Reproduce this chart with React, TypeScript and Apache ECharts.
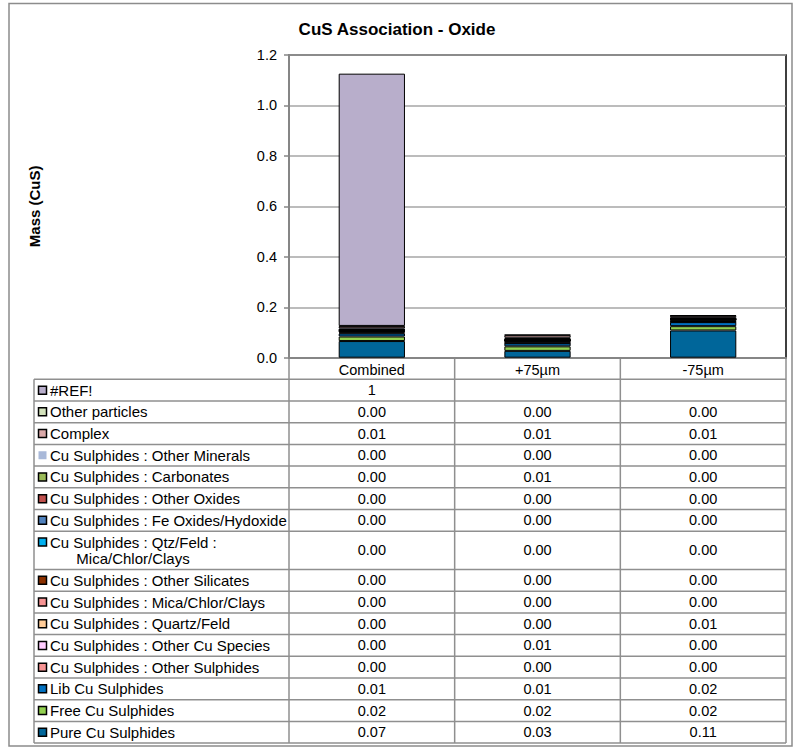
import React, { useEffect, useRef } from "react";
import * as echarts from "echarts";

const categories = ["Combined", "+75\u00b5m", "-75\u00b5m"];
const yTicks = [0, 0.2, 0.4, 0.6, 0.8, 1.0, 1.2];

// table order, top to bottom (stacking is bottom-up, reversed)
const seriesNames = [
  "#REF!",
  "Other particles",
  "Complex",
  "Cu Sulphides : Other Minerals",
  "Cu Sulphides : Carbonates",
  "Cu Sulphides : Other Oxides",
  "Cu Sulphides : Fe Oxides/Hydoxide",
  "Cu Sulphides : Qtz/Feld : Mica/Chlor/Clays",
  "Cu Sulphides : Other Silicates",
  "Cu Sulphides : Mica/Chlor/Clays",
  "Cu Sulphides : Quartz/Feld",
  "Cu Sulphides : Other Cu Species",
  "Cu Sulphides : Other Sulphides",
  "Lib Cu Sulphides",
  "Free Cu Sulphides",
  "Pure Cu Sulphides",
];

const seriesColors = [
  "#B8AECB",
  "#D3E2BC",
  "#D9A8A8",
  "#A9B9D9",
  "#9BBB59",
  "#C0504D",
  "#4F81BD",
  "#00B0F0",
  "#8B3000",
  "#F79494",
  "#FFCC99",
  "#FFCCFF",
  "#F79494",
  "#0070C0",
  "#92D050",
  "#00669A",
];

const combinedValues = [1.0, 0.002, 0.008, 0.001, 0.003, 0.001, 0.002, 0.002, 0.001, 0.001, 0.002, 0.004, 0.003, 0.012, 0.018, 0.066];
const plus75Values = [null, 0.002, 0.01, 0.001, 0.006, 0.001, 0.001, 0.001, 0.001, 0.001, 0.001, 0.008, 0.001, 0.012, 0.018, 0.027];
const minus75Values = [null, 0.002, 0.008, 0.001, 0.002, 0.001, 0.001, 0.001, 0.001, 0.001, 0.006, 0.002, 0.001, 0.016, 0.017, 0.108];

const FONT = "'Liberation Sans', Arial, sans-serif";

function fmt(v: number | null): string {
  if (v == null) return "";
  return Number.isInteger(v) ? String(v) : v.toFixed(2);
}

function wrapName(name: string): string[] {
  const parts = name.split(" : ");
  if (parts.length > 2) {
    return [parts[0] + " : " + parts[1] + " :", parts.slice(2).join(" : ")];
  }
  return [name];
}

export default function App() {
  const ref = useRef<HTMLDivElement>(null);

  useEffect(() => {
    if (!ref.current) return;
    const chart = echarts.init(ref.current, null, { renderer: "svg" });

    const W = 794;
    const H = 748;
    const plotLeft = 289;
    const plotRight = 786;
    const plotTop = 55;
    const plotBottom = 357.7;
    const tableLeft = 34;
    const headerBottom = 379.3;
    const rowH = 21.7;
    const rowH2 = 38.3;
    const lineColor = "#8f8f8f";
    const colW = (plotRight - plotLeft) / categories.length;
    const labelFont = `15px ${FONT}`;
    const numFont = `14.5px ${FONT}`;

    const graphics: any[] = [];
    // outer border
    graphics.push({
      type: "rect",
      shape: { x: 9, y: 3.5, width: 783, height: 742.5 },
      style: { fill: "none", stroke: "#8c8c8c", lineWidth: 1.5 },
    });

    // rows
    let y = headerBottom;
    const rowTops: number[] = [];
    const rowHeights: number[] = [];
    seriesNames.forEach((n) => {
      const lines = wrapName(n);
      const h = lines.length > 1 ? rowH2 : rowH;
      rowTops.push(y);
      rowHeights.push(h);
      y += h;
    });
    const tableBottom = y;

    // horizontal lines
    graphics.push({
      type: "line",
      shape: { x1: plotLeft, y1: plotBottom, x2: plotRight, y2: plotBottom },
      style: { stroke: lineColor, lineWidth: 1.5 },
    });
    [...rowTops, tableBottom].forEach((ry) => {
      graphics.push({
        type: "line",
        shape: { x1: tableLeft, y1: ry, x2: plotRight, y2: ry },
        style: { stroke: lineColor, lineWidth: 1.5 },
      });
    });
    // vertical lines
    graphics.push({
      type: "line",
      shape: { x1: tableLeft, y1: headerBottom, x2: tableLeft, y2: tableBottom },
      style: { stroke: lineColor, lineWidth: 1.5 },
    });
    for (let c = 0; c <= categories.length; c++) {
      const x = plotLeft + c * colW;
      graphics.push({
        type: "line",
        shape: { x1: x, y1: plotBottom, x2: x, y2: tableBottom },
        style: { stroke: lineColor, lineWidth: 1.5 },
      });
    }

    const valueCols = [combinedValues, plus75Values, minus75Values];
    seriesNames.forEach((n, i) => {
      const top = rowTops[i];
      const h = rowHeights[i];
      const cy = top + h / 2;
      const lines = wrapName(n);
      // swatch
      const noBorder = n === "Cu Sulphides : Other Minerals";
      graphics.push({
        type: "rect",
        shape: { x: 38.5, y: (lines.length > 1 ? top + rowH / 2 : cy) - 4, width: 8, height: 8 },
        style: {
          fill: seriesColors[i],
          stroke: noBorder ? "none" : "#000",
          lineWidth: noBorder ? 0 : 1.5,
        },
      });
      if (lines.length === 1) {
        graphics.push({
          type: "text",
          x: 50,
          y: cy,
          style: {
            text: n,
            font: labelFont,
            fill: "#000",
            align: "left",
            verticalAlign: "middle",
            textAlign: "left",
            textVerticalAlign: "middle",
          },
        });
      } else {
        graphics.push({
          type: "text",
          x: 50,
          y: top + rowH / 2,
          style: {
            text: lines[0],
            font: labelFont,
            fill: "#000",
            align: "left",
            verticalAlign: "middle",
            textAlign: "left",
            textVerticalAlign: "middle",
          },
        });
        graphics.push({
          type: "text",
          x: 133,
          y: top + rowH / 2 + 16.5,
          style: {
            text: lines[1],
            font: labelFont,
            fill: "#000",
            align: "center",
            verticalAlign: "middle",
            textAlign: "center",
            textVerticalAlign: "middle",
          },
        });
      }
      valueCols.forEach((col, c) => {
        const s = fmt(col[i]);
        if (!s) return;
        graphics.push({
          type: "text",
          x: plotLeft + colW * (c + 0.5),
          y: cy,
          style: {
            text: s,
            font: numFont,
            fill: "#000",
            align: "center",
            verticalAlign: "middle",
            textAlign: "center",
            textVerticalAlign: "middle",
          },
        });
      });
    });

    const series: any[] = [];
    for (let i = seriesNames.length - 1; i >= 0; i--) {
      const noBorder = seriesNames[i] === "Cu Sulphides : Other Minerals";
      series.push({
        type: "bar",
        name: seriesNames[i],
        stack: "total",
        barWidth: "40%",
        data: [combinedValues[i], plus75Values[i], minus75Values[i]],
        itemStyle: {
          color: seriesColors[i],
          borderColor: "#000",
          borderWidth: noBorder ? 0 : 1,
        },
      });
    }

    chart.setOption({
      animation: false,
      backgroundColor: "#fff",
      textStyle: { fontFamily: FONT },
      title: {
        text: "CuS Association - Oxide",
        left: "center",
        top: 16,
        textStyle: { fontSize: 17, fontWeight: "bold", color: "#000", fontFamily: FONT },
      },
      grid: {
        left: plotLeft,
        right: W - plotRight,
        top: plotTop,
        bottom: H - plotBottom,
        show: true,
        borderColor: "#000",
        borderWidth: 1.5,
        backgroundColor: "transparent",
      },
      xAxis: {
        type: "category",
        data: categories,
        axisLine: { show: true, lineStyle: { color: "#868686", width: 2 } },
        axisTick: { show: false },
        axisLabel: { color: "#000", fontSize: 14.5, margin: 5, fontFamily: FONT },
      },
      yAxis: {
        type: "value",
        min: yTicks[0],
        max: yTicks[yTicks.length - 1],
        interval: 0.2,
        name: "Mass (CuS)",
        nameLocation: "middle",
        nameGap: 247,
        nameTextStyle: { fontSize: 15, fontWeight: "bold", color: "#000", fontFamily: FONT },
        axisLine: { show: true, lineStyle: { color: "#868686", width: 2 } },
        axisTick: { show: true, length: 5, lineStyle: { color: "#868686", width: 1.5 } },
        axisLabel: {
          color: "#000",
          fontSize: 14.5,
          margin: 12,
          fontFamily: FONT,
          formatter: (v: number) => v.toFixed(1),
        },
        splitLine: { show: true, lineStyle: { color: "#a6a6a6", width: 1.5 } },
      },
      graphic: { elements: graphics },
      series,
    });

    return () => chart.dispose();
  }, []);

  return (
    <div
      ref={ref}
      style={{ position: "absolute", left: 0, top: 0, width: 794, height: 748 }}
    />
  );
}
